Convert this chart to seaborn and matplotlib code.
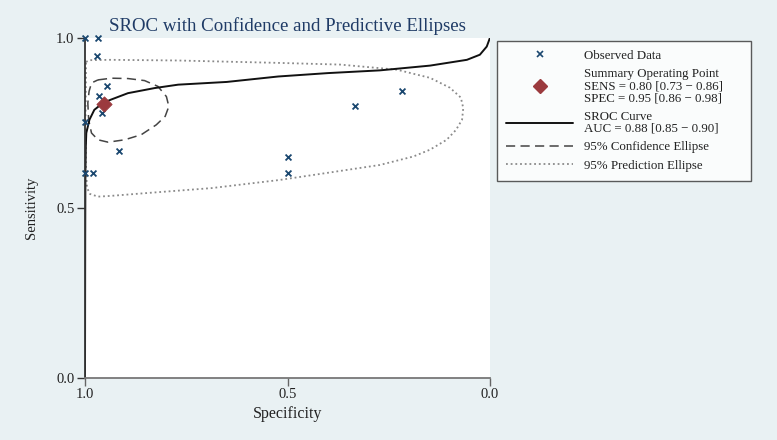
import numpy as np
import pandas as pd
import matplotlib
matplotlib.use("Agg")
import matplotlib.pyplot as plt
from matplotlib.lines import Line2D
import seaborn as sns

sns.set_theme(style="white")
plt.rcParams["font.family"] = ["Liberation Serif", "DejaVu Serif"]

# ---------------------------------------------------------------
# Values (specificity, sensitivity)
# ---------------------------------------------------------------
obs_spec = [1.000, 0.967, 0.971, 0.945, 0.965, 0.957, 1.000, 0.916, 1.000, 0.980, 0.500, 0.500, 0.333, 0.217]
obs_sens = [1.000, 1.000, 0.945, 0.857, 0.830, 0.778, 0.751, 0.667, 0.601, 0.601, 0.648, 0.601, 0.800, 0.844]

summary_spec = [0.952]
summary_sens = [0.805]

sroc_spec = [1.0, 0.9995, 0.999, 0.998, 0.9968, 0.989, 0.977, 0.956, 0.936, 0.894, 0.828,
             0.770, 0.650, 0.523, 0.400, 0.272, 0.148, 0.057, 0.025, 0.008, 0.0]
sroc_sens = [0.0, 0.40, 0.60, 0.68, 0.72, 0.759, 0.788, 0.808, 0.818, 0.837, 0.852,
             0.862, 0.870, 0.886, 0.896, 0.904, 0.918, 0.935, 0.950, 0.974, 1.0]

conf_spec = [0.968, 0.935, 0.894, 0.853, 0.820, 0.799, 0.793, 0.802, 0.824, 0.861, 0.902,
             0.943, 0.968, 0.984, 0.991, 0.993, 0.990, 0.984, 0.968]
conf_sens = [0.876, 0.881, 0.880, 0.874, 0.857, 0.827, 0.798, 0.769, 0.744, 0.715, 0.700,
             0.693, 0.700, 0.720, 0.759, 0.808, 0.842, 0.867, 0.876]

pred_spec = [0.9975, 0.988, 0.938, 0.770, 0.523, 0.370, 0.230, 0.148, 0.099, 0.072, 0.066,
             0.069, 0.084, 0.107, 0.148, 0.189, 0.272, 0.395, 0.519, 0.688, 0.853, 0.938,
             0.968, 0.988, 0.995, 0.9975, 0.9988, 0.9975, 0.9975]
pred_sens = [0.929, 0.934, 0.935, 0.933, 0.926, 0.921, 0.906, 0.882, 0.853, 0.824, 0.793,
             0.759, 0.729, 0.700, 0.671, 0.651, 0.626, 0.604, 0.582, 0.558, 0.543, 0.535,
             0.533, 0.541, 0.559, 0.612, 0.759, 0.891, 0.929]

legend_labels = [
    "Observed Data",
    "Summary Operating Point\nSENS = 0.80 [0.73 \u2212 0.86]\nSPEC = 0.95 [0.86 \u2212 0.98]",
    "SROC Curve\nAUC = 0.88 [0.85 \u2212 0.90]",
    "95% Confidence Ellipse",
    "95% Prediction Ellipse",
]

bg = "#E9F1F3"
navy = "#1A476F"
maroon = "#9B3A3E"

fig = plt.figure(figsize=(7.77, 4.40), dpi=100, facecolor=bg)
ax = fig.add_axes([85 / 777, 62 / 440, 405 / 777, 340.3 / 440])
ax.set_facecolor("white")

obs = pd.DataFrame({"Specificity": obs_spec, "Sensitivity": obs_sens})

sns.lineplot(x=pred_spec, y=pred_sens, sort=False, estimator=None, color="#8A8A8A",
             lw=1.3, linestyle=(0, (1, 1.6)), ax=ax)
sns.lineplot(x=conf_spec, y=conf_sens, sort=False, estimator=None, color="#444444",
             lw=1.1, linestyle=(0, (6, 3.5)), ax=ax)
sns.lineplot(x=sroc_spec, y=sroc_sens, sort=False, estimator=None, color="#111111",
             lw=1.4, ax=ax)
sns.scatterplot(data=obs, x="Specificity", y="Sensitivity", marker="x", s=18,
                color=navy, linewidth=1.3, clip_on=False, zorder=5, ax=ax)
sns.scatterplot(x=summary_spec, y=summary_sens, marker="D", s=60, color=maroon,
                edgecolor=maroon, zorder=6, ax=ax)

ax.set_xlim(1, 0)
ax.set_ylim(0, 1)
ax.set_xticks([1.0, 0.5, 0.0])
ax.set_yticks([0.0, 0.5, 1.0])
ax.set_xticklabels(["1.0", "0.5", "0.0"])
ax.set_yticklabels(["0.0", "0.5", "1.0"])
ax.tick_params(axis="both", direction="out", length=5.5, width=1, colors="#333333",
               labelsize=10.5, pad=2, left=True, bottom=True)
ax.tick_params(axis="x", colors="#666666", labelcolor="#222222")
ax.tick_params(axis="y", labelcolor="#222222")
for side in ["top", "right"]:
    ax.spines[side].set_visible(False)
ax.spines["left"].set_color("#333333")
ax.spines["left"].set_linewidth(1.3)
ax.spines["bottom"].set_color("#777777")
ax.spines["bottom"].set_linewidth(1.3)

ax.set_xlabel("Specificity", fontsize=11.5, color="#222222", labelpad=3)
ax.set_ylabel("Sensitivity", fontsize=10.5, color="#222222", labelpad=13)
ax.set_title("SROC with Confidence and Predictive Ellipses", fontsize=13.6,
             color="#1F3B66", pad=5)

handles = [
    Line2D([], [], ls="none", marker="x", ms=4, mew=1.2, color=navy),
    Line2D([], [], ls="none", marker="D", ms=7.5, color=maroon),
    Line2D([], [], color="#111111", lw=1.4),
    Line2D([], [], color="#444444", lw=1.1, ls=(0, (6, 3.5))),
    Line2D([], [], color="#8A8A8A", lw=1.3, ls=(0, (1, 1.6))),
]
leg = ax.legend(handles, legend_labels, loc="upper left",
                bbox_to_anchor=(497 / 777, 1 - 45 / 440, 254 / 777, 0.01),
                bbox_transform=fig.transFigure, mode="expand", borderaxespad=0,
                fontsize=9.3, handlelength=5.2, handletextpad=0.85, labelspacing=0.5,
                borderpad=0.7, frameon=True, fancybox=False)
leg.get_frame().set_edgecolor("#333333")
leg.get_frame().set_linewidth(1.0)
leg.get_frame().set_facecolor("white")
for t in leg.get_texts():
    t.set_linespacing(1.0)
    t.set_color("#222222")

fig.savefig("out.png", dpi=100, facecolor=bg)
